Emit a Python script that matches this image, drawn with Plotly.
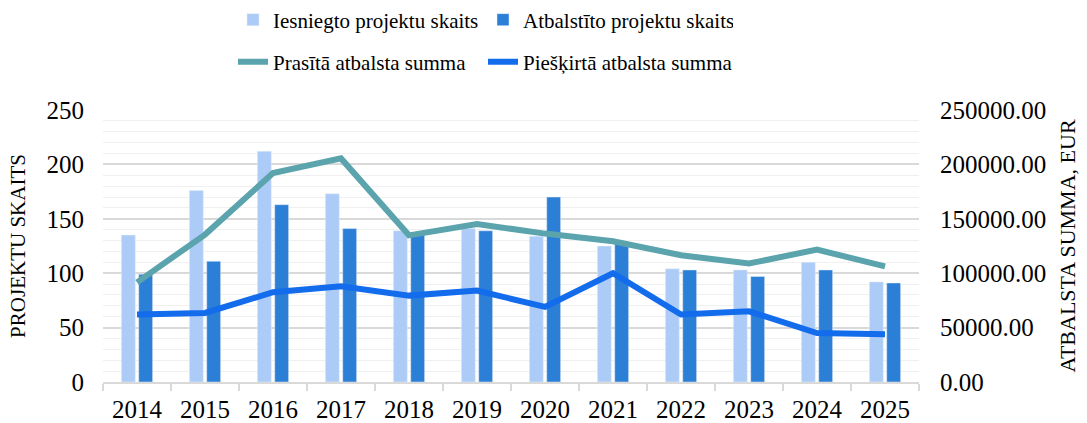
import plotly.graph_objects as go

years = ["2014", "2015", "2016", "2017", "2018", "2019", "2020", "2021", "2022", "2023", "2024", "2025"]
submitted = [135, 176, 212, 173, 139, 141, 134, 125, 104, 103, 110, 92]
supported = [99, 111, 163, 141, 136, 139, 170, 128, 103, 97, 103, 91]
requested = [91600, 135500, 192000, 205500, 134800, 145200, 136400, 129400, 116500, 108900, 121700, 106200]
granted = [62000, 63500, 82500, 88000, 79400, 84000, 69000, 100000, 62000, 65000, 45000, 44000]

FONT = "Liberation Serif, Times New Roman, serif"
C_LIGHT = "#ADCBF7"
C_DARK = "#2B7FD6"
C_TEAL = "#5BA4AD"
C_BLUE = "#136CEB"

fig = go.Figure()
fig.add_trace(go.Bar(x=years, y=submitted, name="Iesniegto projektu skaits",
                     marker_color=C_LIGHT, legend="legend"))
fig.add_trace(go.Bar(x=years, y=supported, name="Atbalstīto projektu skaits",
                     marker_color=C_DARK, legend="legend"))
fig.add_trace(go.Scatter(x=years, y=requested, name="Prasītā atbalsta summa", mode="lines",
                         line=dict(color=C_TEAL, width=6), yaxis="y2", legend="legend2"))
fig.add_trace(go.Scatter(x=years, y=granted, name="Piešķirtā atbalsta summa", mode="lines",
                         line=dict(color=C_BLUE, width=6), yaxis="y2", legend="legend2"))

legend_common = dict(
    orientation="h", xref="container", yref="container",
    xanchor="left", yanchor="middle",
    entrywidth=205, font=dict(family=FONT, size=21, color="#000000"),
    traceorder="normal", bgcolor="rgba(0,0,0,0)",
)

fig.update_layout(
    width=1087, height=423,
    margin=dict(l=103, r=168, t=110, b=41, autoexpand=False),
    paper_bgcolor="white", plot_bgcolor="white",
    font=dict(family=FONT, size=25, color="#000000"),
    barmode="group", bargap=0.49, bargroupgap=0.2,
    xaxis=dict(
        type="category", showline=True, linecolor="#D9D9D9", linewidth=1.5,
        ticks="outside", tickson="boundaries", ticklen=7, tickcolor="#D9D9D9", tickwidth=1.5,
        showgrid=False, tickfont=dict(family=FONT, size=25), automargin=False,
        ticklabelstandoff=4,
    ),
    yaxis=dict(
        range=[0, 250], dtick=50, showgrid=True, gridcolor="#D9D9D9", gridwidth=1.5,
        minor=dict(dtick=10, showgrid=True, gridcolor="#F0F0F0", gridwidth=1.2),
        zeroline=False, showline=False, ticks="", tickfont=dict(family=FONT, size=25),
        ticklabelstandoff=18, automargin=False,
        title=dict(text="PROJEKTU SKAITS", font=dict(family=FONT, size=21), standoff=15),
    ),
    yaxis2=dict(
        range=[0, 250000], dtick=50000, overlaying="y", side="right",
        showgrid=False, zeroline=False, showline=False, ticks="",
        tickformat=".2f", tickfont=dict(family=FONT, size=25), ticklabelstandoff=20,
        automargin=False,
        title=dict(text="ATBALSTA SUMMA, EUR", font=dict(family=FONT, size=22), standoff=14),
    ),
    legend=dict(legend_common, x=233 / 1087, y=1 - 20 / 423),
    legend2=dict(legend_common, x=233 / 1087, y=1 - 62 / 423),
)

fig.write_html(
    "out.html",
    config={"displayModeBar": False},
    post_script="document.body.style.margin='0';document.body.style.overflow='hidden';",
)
